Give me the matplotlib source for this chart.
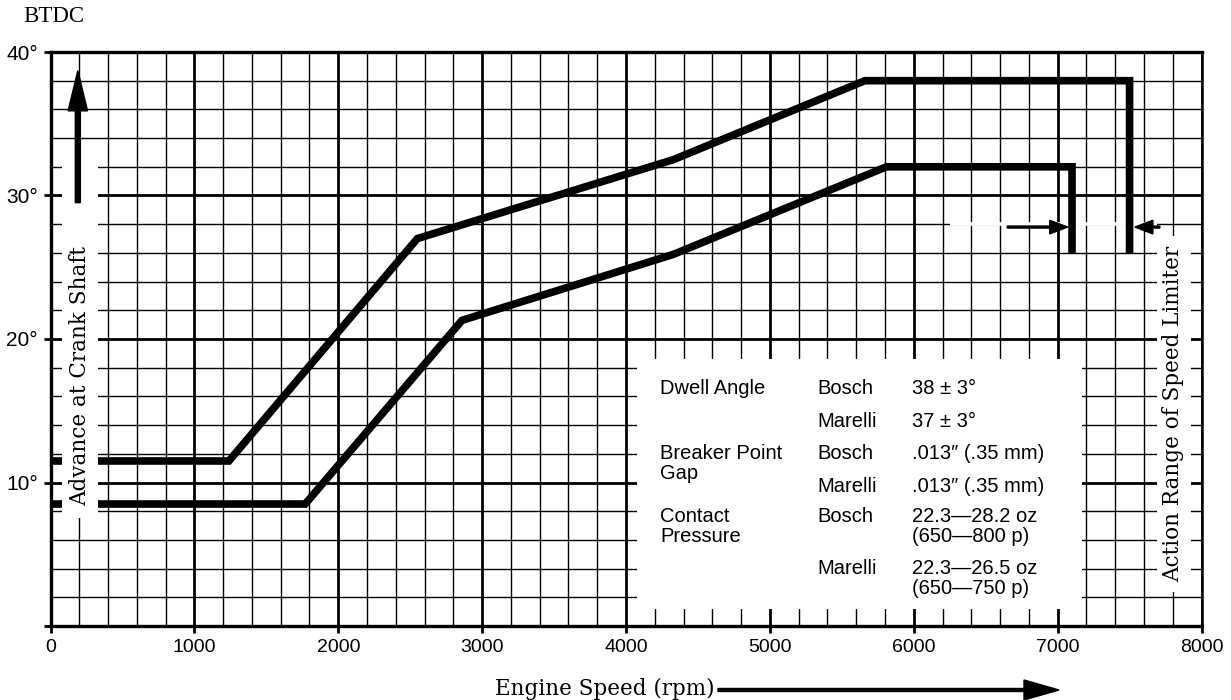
import matplotlib
matplotlib.use("Agg")
import matplotlib.pyplot as plt
from matplotlib.patches import Rectangle, FancyArrow

# ---- data ----
upper_rpm = [0, 1240, 2550, 4330, 5660, 7500, 7500]
upper_deg = [11.5, 11.5, 27.0, 32.5, 38.0, 38.0, 26.0]
lower_rpm = [0, 1770, 2860, 4330, 5810, 7100, 7100]
lower_deg = [8.5, 8.5, 21.3, 25.9, 32.0, 32.0, 26.0]

x_ticks = [0, 1000, 2000, 3000, 4000, 5000, 6000, 7000, 8000]
x_tick_labels = ["0", "1000", "2000", "3000", "4000", "5000", "6000", "7000", "8000"]
y_ticks = [0, 10, 20, 30, 40]
y_tick_labels = ["", "10°", "20°", "30°", "40°"]

table_col1 = ["Dwell Angle", "Breaker Point\nGap", "Contact\nPressure"]
table_col1_y = [16.66, 12.13, 7.74]
table_col2 = ["Bosch", "Marelli", "Bosch", "Marelli", "Bosch", "Marelli"]
table_col3 = ["38 ± 3°", "37 ± 3°", ".013\u2033 (.35 mm)", ".013\u2033 (.35 mm)",
              "22.3—28.2 oz\n(650—800 p)", "22.3—26.5 oz\n(650—750 p)"]
table_row_y = [16.66, 14.36, 12.13, 9.83, 7.74, 4.11]

W, H = 1231, 700
fig = plt.figure(figsize=(W / 100, H / 100), dpi=100)
ax = fig.add_axes([50.5 / W, 1 - 626 / H, 1151 / W, 574 / H])
ax.set_xlim(0, 8000)
ax.set_ylim(0, 40)

sans = ["Liberation Sans", "DejaVu Sans"]
serif = ["DejaVu Serif"]

ax.set_xticks(x_ticks)
ax.set_xticklabels(x_tick_labels, fontsize=14, family=sans)
ax.set_xticks(range(0, 8001, 200), minor=True)
ax.set_yticks(y_ticks)
ax.set_yticklabels(y_tick_labels, fontsize=15, family=sans)
ax.set_yticks(range(0, 41, 2), minor=True)
ax.tick_params(which="major", length=5, width=2, pad=4, color="black")
ax.tick_params(which="minor", length=0)
ax.set_axisbelow(True)
ax.grid(which="major", color="black", lw=2.0)
ax.grid(which="minor", color="black", lw=1.0)
for side in ["left", "bottom", "top"]:
    ax.spines[side].set_linewidth(2.4)
ax.spines["right"].set_linewidth(1.8)

# curves
ax.plot(upper_rpm, upper_deg, color="black", lw=5.5, solid_joinstyle="miter",
        solid_capstyle="butt", zorder=2)
ax.plot(lower_rpm, lower_deg, color="black", lw=5.5, solid_joinstyle="miter",
        solid_capstyle="butt", zorder=2)

# white-out areas (labels / table pasted over the grid)
for (x0, y0, x1, y1) in [(80, 7.5, 330, 32.6),
                         (4075, 1.2, 7170, 18.6),
                         (7690, 2.4, 7930, 27.2)]:
    ax.add_patch(Rectangle((x0, y0), x1 - x0, y1 - y0, facecolor="white",
                           edgecolor="none", zorder=2.5))
# grid line hidden behind the limiter arrows
ax.hlines(28, 6250, 7690, color="white", lw=2.6, zorder=1.5)

# left vertical arrow
ax.add_patch(FancyArrow(190, 29.5, 0, 9.2, width=35, head_width=135,
                        head_length=2.8, length_includes_head=True,
                        color="black", zorder=3))
ax.text(205, 17.4, "Advance at Crank Shaft", rotation=90, ha="center",
        va="center", fontsize=15.5, family=serif, zorder=4)

# speed limiter arrows
ax.add_patch(FancyArrow(6650, 27.8, 7070 - 6650, 0, width=0.14, head_width=0.95,
                        head_length=125, length_includes_head=True,
                        color="black", zorder=3))
ax.add_patch(FancyArrow(7710, 27.8, 7537 - 7710, 0, width=0.14, head_width=0.95,
                        head_length=125, length_includes_head=True,
                        color="black", zorder=3))
ax.text(7800, 14.8, "Action Range of Speed Limiter", rotation=90, ha="center",
        va="center", fontsize=15.5, family=serif, zorder=4)

# table
for t, y in zip(table_col1, table_col1_y):
    ax.text(4236, y + 0.55, t, ha="left", va="top", fontsize=14.5, family=sans,
            zorder=4, linespacing=1.05)
for t, y in zip(table_col2, table_row_y):
    ax.text(5333, y + 0.55, t, ha="left", va="top", fontsize=14.5, family=sans,
            zorder=4)
for t, y in zip(table_col3, table_row_y):
    ax.text(5990, y + 0.55, t, ha="left", va="top", fontsize=14.5, family=sans,
            zorder=4, linespacing=1.05)

# figure-level labels
fig.text(23 / W, 1 - 17 / H, "BTDC", ha="left", va="center", fontsize=16.5,
         family=["Liberation Serif"])
fig.text(495 / W, 1 - 689 / H, "Engine Speed (rpm)", ha="left", va="center",
         fontsize=15.5, family=serif)
fig.patches.append(FancyArrow(718 / W, 1 - 690 / H, (1059 - 718) / W, 0,
                              width=3 / H, head_width=20 / H, head_length=35 / W,
                              length_includes_head=True, color="black",
                              transform=fig.transFigure, figure=fig))

fig.savefig("out.png", dpi=100)
